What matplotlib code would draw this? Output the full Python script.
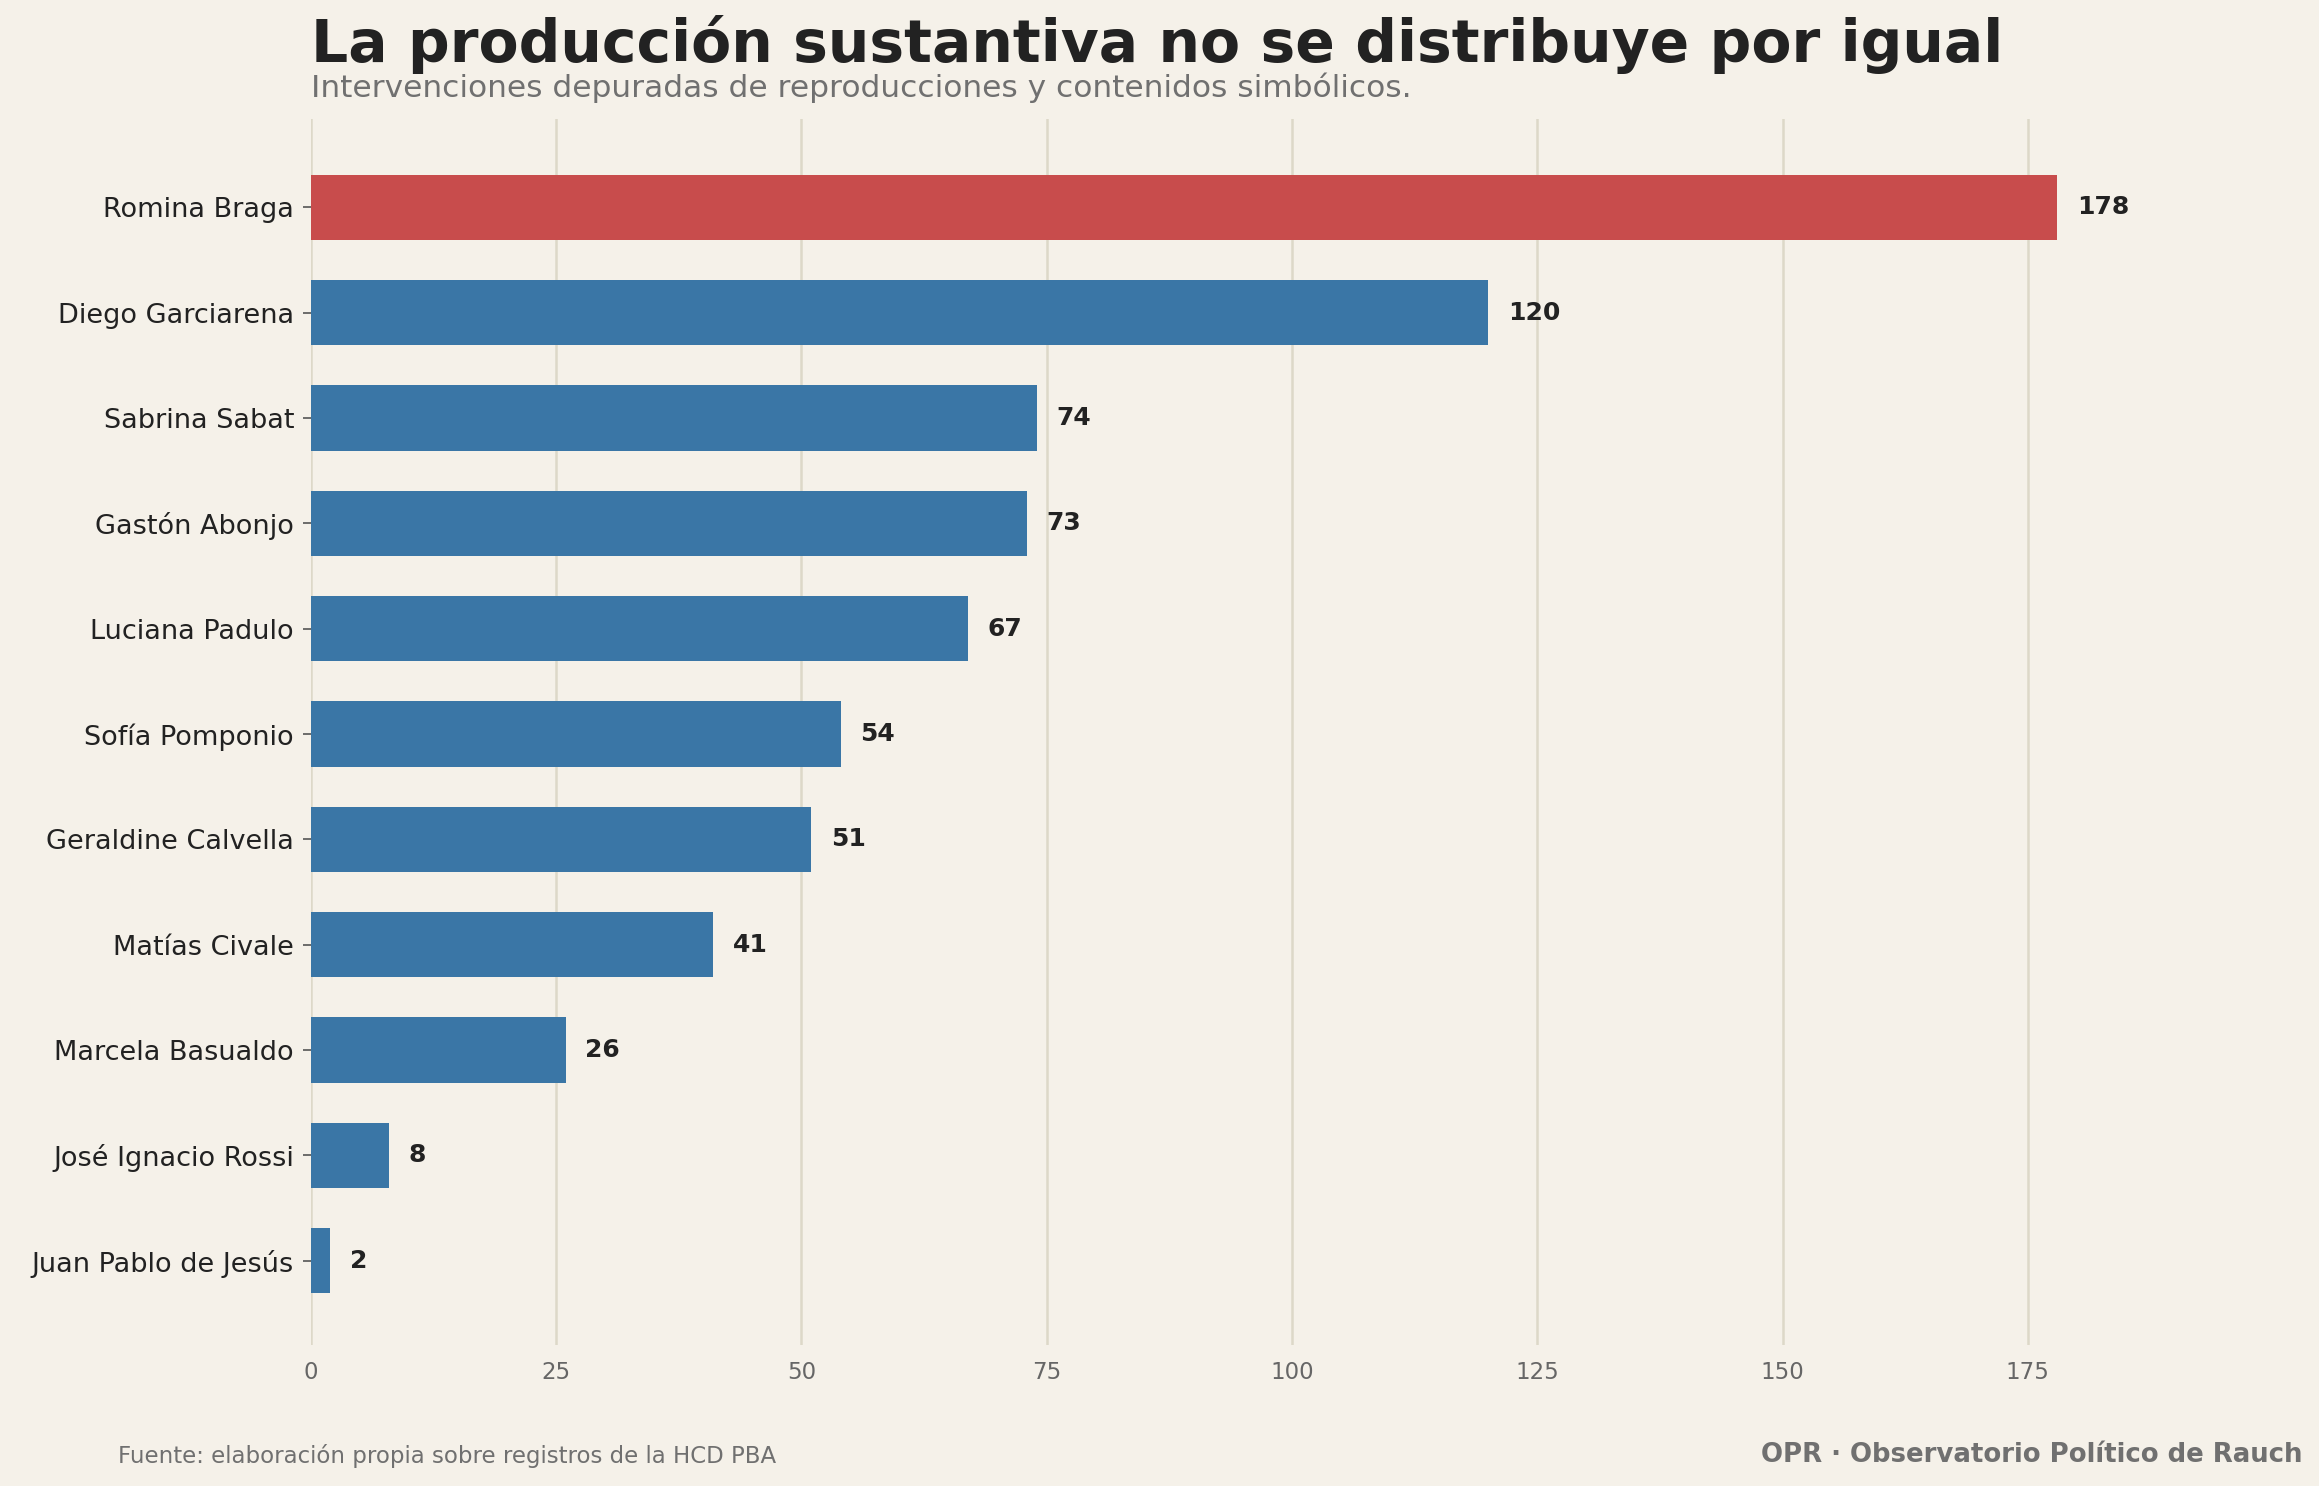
import matplotlib
matplotlib.use("Agg")
import matplotlib.pyplot as plt

names = ["Romina Braga", "Diego Garciarena", "Sabrina Sabat", "Gastón Abonjo", "Luciana Padulo",
         "Sofía Pomponio", "Geraldine Calvella", "Matías Civale", "Marcela Basualdo",
         "José Ignacio Rossi", "Juan Pablo de Jesús"]
values = [178, 120, 74, 73, 67, 54, 51, 41, 26, 8, 2]
xticks = [0, 25, 50, 75, 100, 125, 150, 175]

bg = "#F5F1E9"
fig = plt.figure(figsize=(2319/150, 1486/150), dpi=150, facecolor=bg)
ax = fig.add_axes([0.134, 0.095, 0.842, 0.825], facecolor=bg)
colors = ["#C84C4C"] + ["#3A76A6"] * (len(values) - 1)
ypos = list(range(len(values)))
ax.barh(ypos, values, height=0.62, color=colors, zorder=3)
for y, v in zip(ypos, values):
    ax.text(v + 2, y, str(v), va="center", ha="left", fontsize=12, fontweight="bold", color="#222222")
ax.set_yticks(ypos)
ax.set_yticklabels(names, fontsize=13, color="#222222")
ax.set_xticks(xticks)
ax.set_xticklabels([str(t) for t in xticks], fontsize=11, color="#666666")
ax.set_xlim(0, 199)
ax.set_ylim(10.8, -0.84)
ax.grid(axis="x", color="#DDD8C8", linewidth=1.2, zorder=0)
for s in ax.spines.values():
    s.set_visible(False)
ax.tick_params(axis="x", length=0, pad=8)
ax.tick_params(axis="y", length=4, color="#555555", pad=4)

fig.text(0.134, 0.95, "La producción sustantiva no se distribuye por igual", fontsize=28,
         fontweight="bold", color="#222222", ha="left", va="bottom")
fig.text(0.134, 0.931, "Intervenciones depuradas de reproducciones y contenidos simbólicos.",
         fontsize=15, color="#707070", ha="left", va="bottom")
fig.text(0.051, 0.012, "Fuente: elaboración propia sobre registros de la HCD PBA",
         fontsize=11, color="#707070", ha="left", va="bottom")
fig.text(0.993, 0.012, "OPR · Observatorio Político de Rauch", fontsize=12.5,
         fontweight="bold", color="#707070", ha="right", va="bottom")
fig.savefig("out.png", dpi=150, facecolor=bg)
